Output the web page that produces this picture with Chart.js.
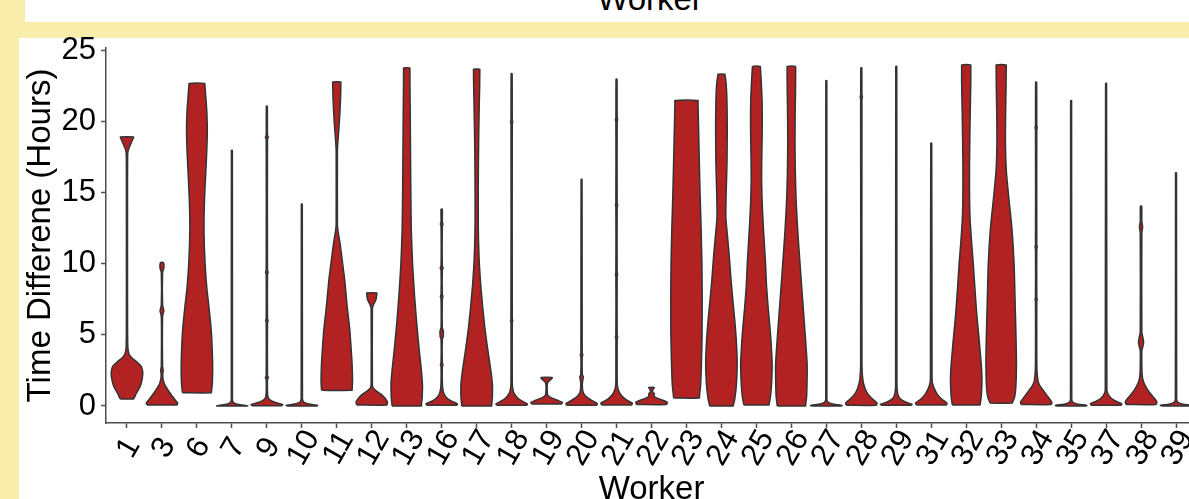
<!DOCTYPE html>
<html><head><meta charset="utf-8">
<script src="https://cdn.jsdelivr.net/npm/chart.js@4.4.1/dist/chart.umd.min.js"></script>
<style>
html,body{margin:0;padding:0;}
body{width:1189px;height:499px;overflow:hidden;background:#F8EDAA;position:relative;font-family:'Liberation Sans',Arial,sans-serif;}
#strip{position:absolute;left:25px;top:0;width:1164px;height:22px;background:#fff;overflow:hidden;}
#strip div{position:absolute;left:0;top:-18.4px;width:1250px;text-align:center;font-size:33px;line-height:33px;color:#000;}
#panel{position:absolute;left:19px;top:38px;width:1170px;height:461px;background:#fff;}
#wrap{position:absolute;left:0;top:0;width:1210px;height:530px;}
</style></head>
<body>
<div id="strip"><div>Worker</div></div>
<div id="panel"></div>
<div id="wrap"><canvas id="c" width="1210" height="530"></canvas></div>
<script>
const workers = ['1','3','6','7','9','10','11','12','13','16','17','18','19','20','21','22','23','24','25','26','27','28','29','31','32','33','34','35','37','38','39'];
const yTicks = [0,5,10,15,20,25];
// violin outlines: [hours, relative half-width]
const w1 = [[0.49,0.42],[0.55,0.45],[0.9,0.6],[1.4,0.85],[2.0,0.98],[2.4,1.0],[2.8,0.9],[3.1,0.62],[3.4,0.3],[3.7,0.12],[4.2,0.05],[7,0.035],[14,0.035],[17.6,0.04],[18.0,0.08],[18.5,0.26],[18.88,0.41],[18.94,0.42]];
const w3 = [[0.07,0.95],[0.2,1.0],[0.4,0.85],[0.7,0.65],[1.0,0.45],[1.3,0.28],[1.6,0.14],[1.9,0.07],[2.2,0.05],[2.5,0.08],[2.8,0.04],[6.3,0.04],[6.7,0.12],[7.1,0.04],[9.4,0.04],[9.7,0.12],[10.0,0.12],[10.1,0.07]];
const w6 = [[0.93,0.92],[1.05,0.93],[1.6,0.98],[2.7,1.0],[4.0,0.97],[5.3,0.91],[6.8,0.78],[8.3,0.63],[9.8,0.53],[11.3,0.47],[12.8,0.45],[14.5,0.48],[16.2,0.55],[17.8,0.62],[19.3,0.66],[20.7,0.63],[21.8,0.56],[22.55,0.51],[22.7,0.5]];
const w7 = [[0.0,1.0],[0.07,0.65],[0.16,0.22],[0.28,0.07],[0.5,0.035],[18.0,0.03]];
const w9 = [[0.02,0.95],[0.1,1.0],[0.22,0.6],[0.36,0.3],[0.5,0.13],[0.7,0.06],[1.0,0.04],[1.85,0.04],[2.0,0.09],[2.15,0.04],[5.85,0.04],[6.0,0.08],[6.15,0.04],[9.25,0.04],[9.4,0.08],[9.55,0.04],[18.75,0.04],[18.9,0.09],[19.05,0.04],[21.1,0.03]];
const w10 = [[0.0,0.95],[0.05,1.0],[0.14,0.45],[0.28,0.12],[0.5,0.04],[14.2,0.03]];
const w11 = [[1.1,0.97],[1.2,0.975],[1.8,1.0],[3.0,0.97],[4.2,0.9],[5.3,0.83],[7.0,0.66],[8.9,0.5],[10.3,0.34],[11.5,0.2],[12.3,0.08],[12.8,0.04],[18.0,0.04],[18.6,0.07],[19.5,0.13],[20.5,0.19],[21.7,0.24],[22.65,0.258],[22.8,0.26]];
const w12 = [[0.07,0.95],[0.25,1.0],[0.5,0.88],[0.8,0.62],[1.05,0.3],[1.25,0.1],[1.5,0.04],[6.9,0.04],[7.1,0.1],[7.5,0.27],[7.85,0.318],[7.95,0.32]];
const w13 = [[0.0,0.93],[0.1,0.935],[0.6,0.98],[1.5,1.0],[2.5,0.93],[4.2,0.77],[6.0,0.62],[7.7,0.5],[10.0,0.37],[12.4,0.29],[15.0,0.26],[19.4,0.23],[22.0,0.21],[23.65,0.2],[23.8,0.2]];
const w16 = [[0.05,0.95],[0.15,1.0],[0.35,0.6],[0.6,0.3],[0.9,0.13],[1.3,0.06],[1.7,0.04],[2.75,0.04],[2.9,0.08],[3.05,0.04],[4.7,0.04],[4.9,0.1],[5.3,0.1],[5.5,0.04],[7.55,0.04],[7.7,0.08],[7.85,0.04],[9.55,0.04],[9.7,0.09],[9.85,0.04],[12.65,0.04],[12.8,0.08],[12.95,0.04],[13.85,0.04]];
const w17 = [[0.0,0.95],[0.1,0.955],[0.7,1.0],[1.5,1.0],[2.5,0.9],[4.0,0.7],[5.5,0.52],[7.0,0.38],[8.5,0.26],[10.0,0.17],[11.5,0.12],[13.0,0.1],[15.0,0.1],[17.0,0.11],[19.0,0.13],[21.0,0.16],[22.5,0.19],[23.55,0.2],[23.7,0.2]];
const w18 = [[0.05,0.95],[0.15,1.0],[0.35,0.65],[0.6,0.35],[0.9,0.15],[1.3,0.06],[1.7,0.04],[5.85,0.04],[6.0,0.07],[6.15,0.04],[19.85,0.04],[20.0,0.07],[20.15,0.04],[23.4,0.03]];
const w19 = [[0.14,0.95],[0.25,1.0],[0.4,0.7],[0.55,0.35],[0.7,0.12],[0.85,0.05],[1.5,0.04],[1.7,0.1],[1.85,0.25],[1.93,0.34],[2.0,0.35]];
const w20 = [[0.05,0.95],[0.15,1.0],[0.35,0.7],[0.6,0.35],[0.9,0.12],[1.2,0.06],[1.6,0.05],[1.9,0.09],[2.05,0.11],[2.2,0.05],[3.45,0.04],[3.6,0.08],[3.75,0.04],[15.95,0.03]];
const w21 = [[0.07,0.95],[0.2,1.0],[0.45,0.6],[0.75,0.3],[1.1,0.12],[1.5,0.05],[2.0,0.04],[4.7,0.04],[4.85,0.07],[5.0,0.04],[9.1,0.04],[9.25,0.07],[9.4,0.04],[14.0,0.04],[14.15,0.07],[14.3,0.04],[20.0,0.04],[20.15,0.07],[20.3,0.04],[23.0,0.03]];
const w22 = [[0.1,0.95],[0.25,1.0],[0.45,0.6],[0.6,0.25],[0.75,0.15],[0.85,0.18],[0.95,0.1],[1.05,0.05],[1.15,0.1],[1.25,0.16],[1.3,0.17]];
const w23 = [[0.56,0.82],[0.7,0.825],[1.5,0.9],[3.0,0.95],[5.0,0.99],[7.7,1.0],[10.0,0.98],[12.5,0.93],[14.7,0.87],[17.0,0.82],[19.5,0.77],[21.35,0.732],[21.5,0.73]];
const w24 = [[0.0,0.75],[0.12,0.77],[0.5,0.85],[1.5,0.95],[3.0,1.0],[4.5,0.95],[6.0,0.85],[7.5,0.72],[9.0,0.6],[10.5,0.5],[12.0,0.38],[13.3,0.28],[15.0,0.3],[17.0,0.35],[19.5,0.37],[21.5,0.35],[22.7,0.3],[23.25,0.23],[23.35,0.22]];
const w25 = [[0.07,0.8],[0.2,0.82],[0.7,0.9],[1.7,0.97],[3.0,1.0],[4.5,0.93],[5.4,0.87],[7.0,0.74],[8.5,0.64],[10.0,0.58],[11.5,0.5],[13.0,0.42],[14.5,0.36],[16.0,0.33],[17.5,0.34],[19.5,0.37],[21.5,0.36],[23.0,0.3],[23.8,0.255],[23.9,0.25]];
const w26 = [[0.0,0.9],[0.12,0.91],[0.7,0.97],[2.0,1.0],[3.0,1.0],[5.0,0.88],[7.7,0.7],[10.0,0.55],[12.4,0.4],[14.5,0.3],[16.5,0.25],[18.5,0.23],[20.5,0.24],[22.0,0.26],[23.2,0.27],[23.8,0.27],[23.9,0.27]];
const w27 = [[0.0,0.95],[0.04,1.0],[0.12,0.5],[0.22,0.18],[0.35,0.06],[0.6,0.035],[22.9,0.03]];
const w28 = [[0.05,0.95],[0.2,1.0],[0.45,0.75],[0.8,0.45],[1.2,0.25],[1.7,0.12],[2.3,0.06],[3.0,0.04],[21.6,0.04],[21.75,0.07],[21.9,0.04],[23.8,0.03]];
const w29 = [[0.05,0.95],[0.12,1.0],[0.3,0.55],[0.5,0.25],[0.8,0.1],[1.2,0.05],[1.6,0.04],[23.9,0.03]];
const w31 = [[0.07,0.95],[0.2,1.0],[0.45,0.7],[0.8,0.4],[1.2,0.2],[1.6,0.08],[2.0,0.05],[18.5,0.03]];
const w32 = [[0.07,0.88],[0.2,0.9],[0.7,0.96],[1.9,1.0],[3.0,0.95],[4.3,0.85],[5.5,0.75],[6.6,0.66],[8.3,0.55],[10.0,0.45],[11.7,0.33],[13.3,0.24],[15.0,0.21],[17.0,0.21],[19.0,0.23],[21.0,0.26],[22.8,0.29],[23.88,0.29],[24.0,0.29]];
const w33 = [[0.2,0.71],[0.32,0.74],[0.6,0.85],[1.3,0.93],[3.0,0.97],[5.4,0.93],[7.5,0.88],[10.0,0.82],[12.4,0.69],[14.7,0.48],[16.5,0.33],[18.5,0.27],[20.5,0.28],[22.5,0.31],[23.88,0.32],[24.0,0.32]];
const w34 = [[0.1,0.95],[0.25,1.0],[0.5,0.85],[0.8,0.65],[1.1,0.45],[1.4,0.25],[1.7,0.13],[2.1,0.08],[2.6,0.05],[3.5,0.04],[7.35,0.04],[7.5,0.07],[7.65,0.04],[11.05,0.04],[11.2,0.07],[11.35,0.04],[19.45,0.04],[19.6,0.07],[19.75,0.04],[22.8,0.03]];
const w35 = [[0.0,0.95],[0.04,1.0],[0.12,0.45],[0.25,0.12],[0.45,0.04],[21.5,0.03]];
const w37 = [[0.05,0.95],[0.15,1.0],[0.35,0.6],[0.6,0.28],[0.9,0.1],[1.2,0.05],[22.7,0.03]];
const w38 = [[0.1,0.95],[0.3,1.0],[0.6,0.8],[1.0,0.5],[1.4,0.28],[1.8,0.13],[2.2,0.07],[2.8,0.05],[3.9,0.05],[4.2,0.12],[4.5,0.16],[4.8,0.12],[5.2,0.05],[12.2,0.05],[12.6,0.1],[13.0,0.05],[14.07,0.04]];
const w39 = [[0.0,0.9],[0.04,1.0],[0.12,0.45],[0.25,0.12],[0.45,0.04],[16.4,0.03]];
const profiles = [w1,w3,w6,w7,w9,w10,w11,w12,w13,w16,w17,w18,w19,w20,w21,w22,w23,w24,w25,w26,w27,w28,w29,w31,w32,w33,w34,w35,w37,w38,w39];

const HALF = 0.45;
function buildDatasets() {
  return profiles.map((p, i) => {
    const cx = i + 1;
    const left = p.map(([v, w]) => ({x: cx - HALF * w, y: v}));
    const right = p.slice().reverse().map(([v, w]) => ({x: cx + HALF * w, y: v}));
    return {
      label: workers[i],
      data: [...left, ...right, left[0]],
      showLine: true, fill: 'shape',
      backgroundColor: '#B22222', borderColor: '#333333', borderWidth: 1.5,
      borderJoinStyle: 'round', pointRadius: 0, tension: 0.2
    };
  });
}

const labelPlugin = {
  id: 'workerLabels',
  afterDraw(chart) {
    const {ctx} = chart; const x = chart.scales.x;
    ctx.save();
    ctx.font = '31px "Liberation Sans", Arial, sans-serif';
    ctx.fillStyle = '#000'; ctx.textAlign = 'center'; ctx.textBaseline = 'middle';
    workers.forEach((lab, i) => {
      ctx.save();
      ctx.translate(x.getPixelForValue(i + 1) + 2, x.top + 25);
      ctx.rotate(-Math.PI / 3);
      ctx.fillText(lab, 0, 0);
      ctx.restore();
    });
    ctx.restore();
  }
};

Chart.defaults.font.family = "'Liberation Sans', Arial, sans-serif";
const axisColor = '#4d4d4d';
const target = {left: 106, top: 48, right: 1197, bottom: 423};

function makeConfig(adj) {
  return {
    type: 'scatter',
    data: {datasets: buildDatasets()},
    plugins: [labelPlugin],
    options: {
      responsive: false, animation: false, devicePixelRatio: 1,
      layout: {padding: {left: 17, top: 48 + adj.top, right: 13 + adj.right, bottom: 0}},
      plugins: {legend: {display: false}, tooltip: {enabled: false}},
      scales: {
        x: {
          type: 'linear', min: 0.4, max: 31.6,
          afterBuildTicks: s => { s.ticks = workers.map((_, i) => ({value: i + 1})); },
          ticks: {display: false},
          grid: {drawOnChartArea: false, drawTicks: true, tickLength: 5, tickWidth: 1.5, tickColor: axisColor},
          border: {display: true, color: axisColor, width: 1.5},
          title: {display: true, text: 'Worker', color: '#000', font: {size: 33}, padding: {top: 42.2 + adj.bottom, bottom: 20.2}}
        },
        y: {
          min: -1.2, max: 25.2,
          afterBuildTicks: s => { s.ticks = yTicks.map(v => ({value: v})); },
          ticks: {color: '#000', font: {size: 31}, padding: 5},
          grid: {drawOnChartArea: false, drawTicks: true, tickLength: 5, tickWidth: 1.5, tickColor: axisColor},
          border: {display: true, color: axisColor, width: 1.5},
          title: {display: true, text: 'Time Differene (Hours)', color: '#000', font: {size: 33}, padding: {top: 4, bottom: 1 + adj.left}}
        }
      }
    }
  };
}

const canvas = document.getElementById('c');
let chart = new Chart(canvas, makeConfig({left: 0, top: 0, right: 0, bottom: 0}));
const ca = chart.chartArea;
const adj = {
  left: target.left - ca.left,
  top: target.top - ca.top,
  right: ca.right - target.right,
  bottom: ca.bottom - target.bottom
};
chart.destroy();
chart = new Chart(canvas, makeConfig(adj));
</script>
</body></html>
